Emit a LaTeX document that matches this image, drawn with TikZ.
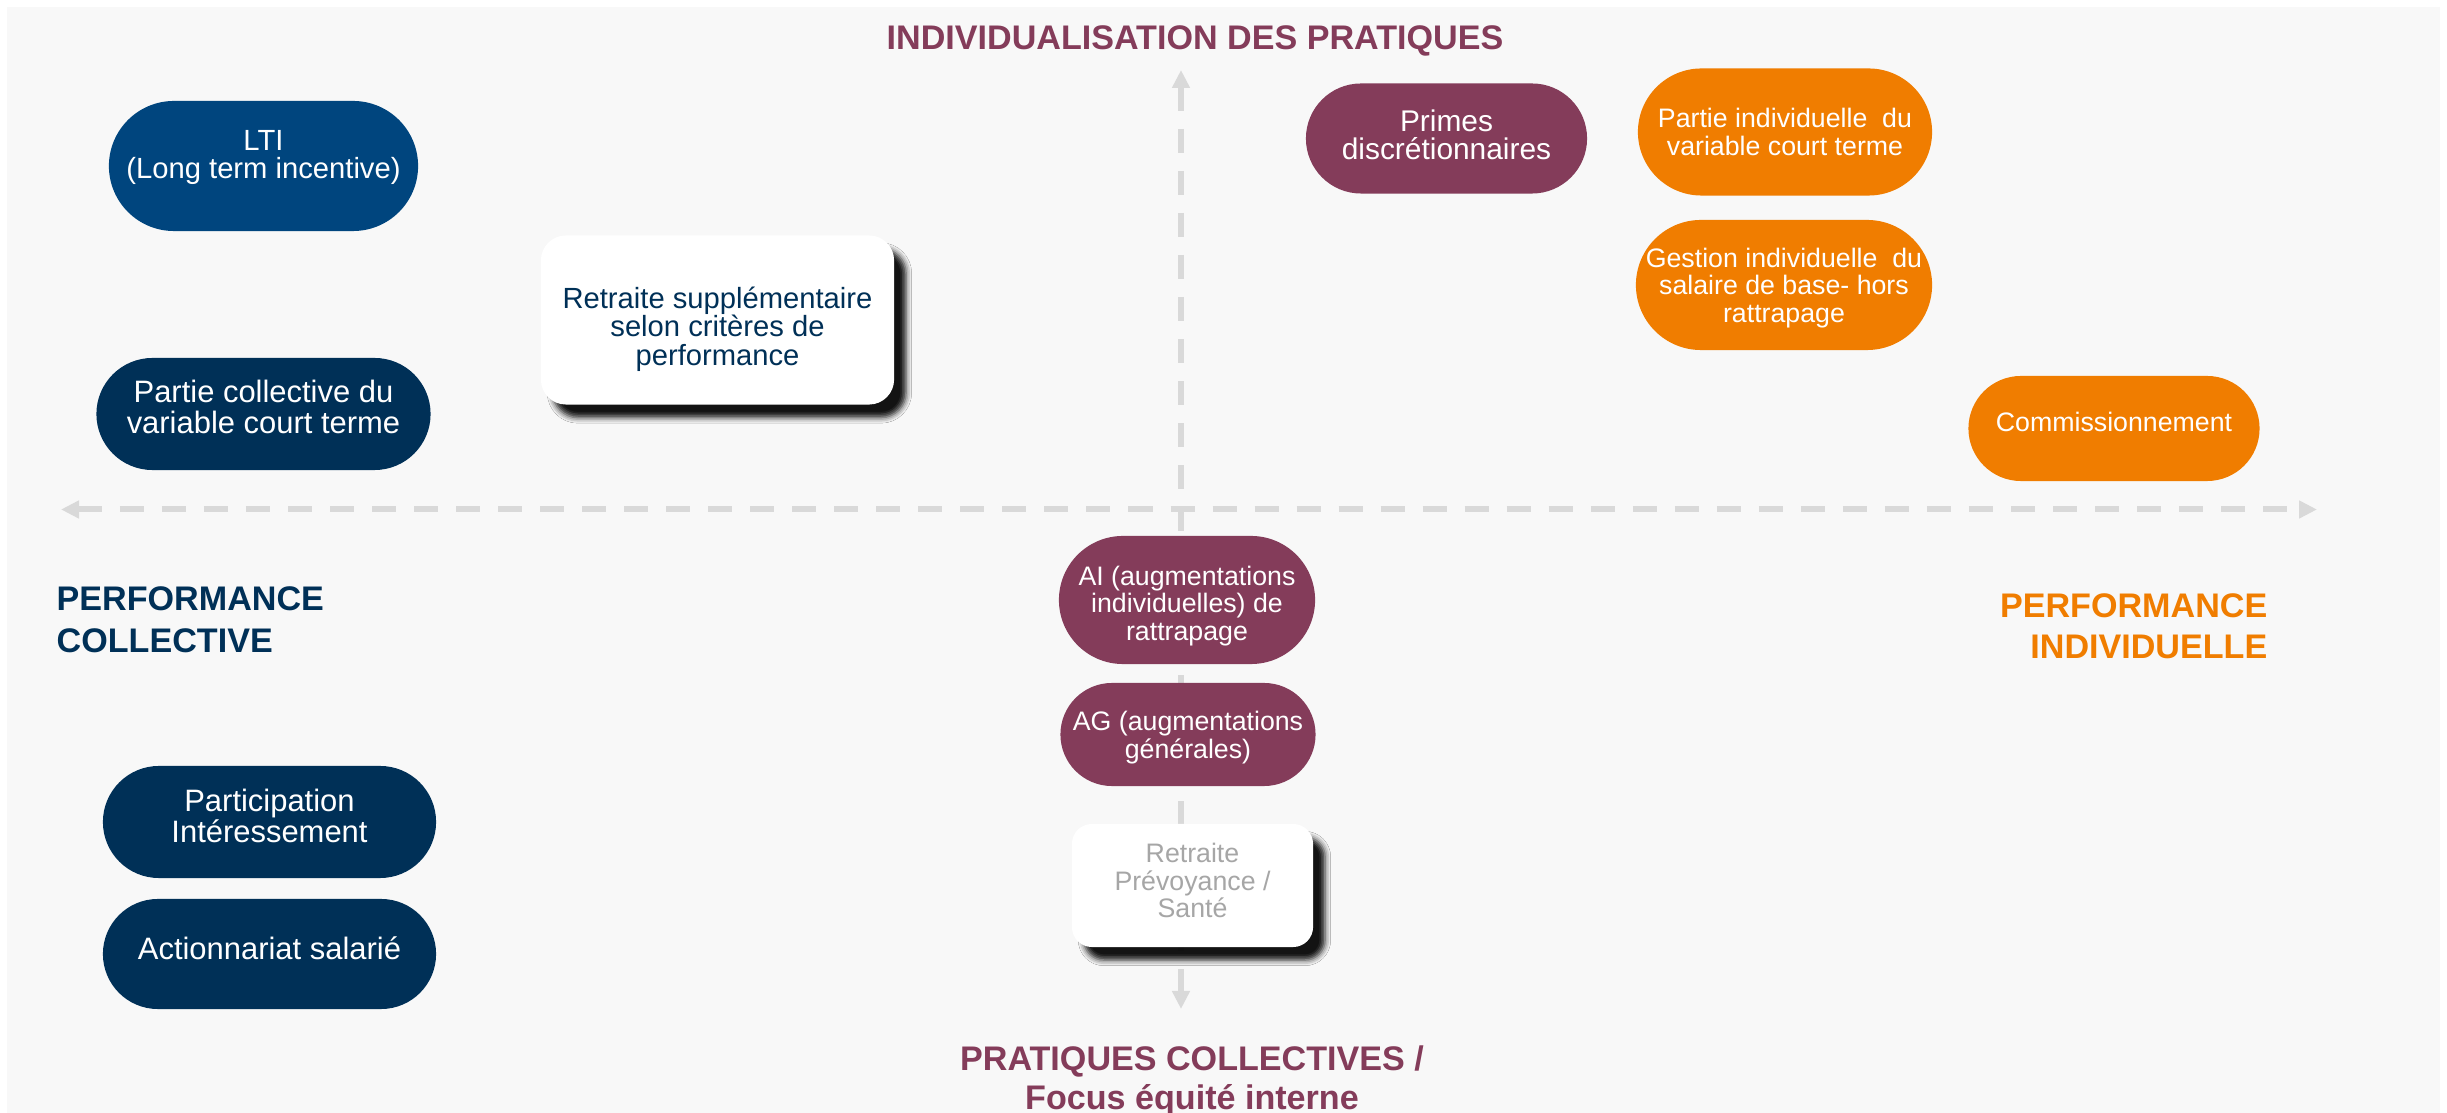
\documentclass[tikz,border=0pt]{standalone}
\usepackage{fontspec}
\setmainfont{Liberation Sans}
\usetikzlibrary{shapes.misc,arrows.meta,shadows.blur}

\definecolor{navy}{HTML}{003057}
\definecolor{ltiblue}{HTML}{00457E}
\definecolor{plum}{HTML}{843C5A}
\definecolor{tangerine}{HTML}{F07D00}
\definecolor{panel}{HTML}{F8F8F8}
\definecolor{axisgrey}{HTML}{D9D9D9}
\definecolor{softgrey}{HTML}{A6A6A6}

\begin{document}
\begin{tikzpicture}[x=0.01cm,y=-0.01cm,
  pill/.style={rounded rectangle, rounded rectangle arc length=180, inner sep=0pt},
  card/.style={rectangle, rounded corners=0.25cm, fill=white, inner sep=0pt,
    blur shadow={shadow xshift=3.4pt, shadow yshift=-3.7pt,
      shadow blur radius=1.6pt, shadow opacity=92}},
  label/.style={inner sep=0pt, align=center, text=white},
  bigtxt/.style={font=\fontsize{8.8pt}{8.6pt}\selectfont},
  midtxt/.style={font=\fontsize{8.3pt}{8.1pt}\selectfont},
  smalltxt/.style={font=\fontsize{7.6pt}{7.9pt}\selectfont},
  head/.style={font=\fontsize{9.7pt}{12pt}\selectfont\bfseries, inner sep=0pt},
  axisline/.style={draw=axisgrey, line width=0.06cm,
    dash pattern=on 0.24cm off 0.18cm,
    {Triangle[length=0.18cm,width=0.17cm,fill=axisgrey]}-{Triangle[length=0.18cm,width=0.17cm,fill=axisgrey]}}
]
% page and panel
\useasboundingbox (0,0) rectangle (2447,1113);
\fill[white] (0,0) rectangle (2447,1113);
\fill[panel] (7,7) rectangle (2440,1113);

% axes
\coordinate (hl) at (61,509.5);
\coordinate (hr) at (2317,509.5);
\coordinate (vt) at (1181,70);
\coordinate (vb) at (1181,1009);
\draw[axisline] (hl) -- (hr);
\draw[axisline] (vt) -- (vb);

% axis titles
\node[head, text=plum, anchor=base] (ttop) at (1195,50) {INDIVIDUALISATION DES PRATIQUES};
\node[head, text=navy, anchor=north west, align=left] (pcolh) at (56,586) {PERFORMANCE\\COLLECTIVE};
\node[head, text=tangerine, anchor=north east, align=right,
  font=\fontsize{9.7pt}{11.7pt}\selectfont\bfseries] (pindh) at (2268,593) {PERFORMANCE\\INDIVIDUELLE};
\node[head, text=plum, anchor=north, align=center,
  font=\fontsize{9.7pt}{11.1pt}\selectfont\bfseries] (tbot) at (1192,1045) {PRATIQUES COLLECTIVES /\\Focus équité interne};

% collective practices
\node[pill, fill=ltiblue, minimum width=3.09cm, minimum height=1.30cm] (lti) at (263.5,166) {};
\node[label, midtxt] (lti-t) at ([yshift=0.085cm]lti.center) {LTI\\(Long term incentive)};
\node[pill, fill=navy, minimum width=3.34cm, minimum height=1.12cm] (pcol) at (263.5,414) {};
\node[label, bigtxt] (pcol-t) at ([yshift=0.07cm]pcol.center) {Partie collective du\\variable court terme};
\node[pill, fill=navy, minimum width=3.33cm, minimum height=1.12cm] (part) at (269.5,822) {};
\node[label, bigtxt] (part-t) at ([yshift=0.06cm]part.center) {Participation\\Intéressement};
\node[pill, fill=navy, minimum width=3.33cm, minimum height=1.10cm] (act) at (269.5,954) {};
\node[label, bigtxt] (act-t) at ([yshift=0.06cm]act.center) {Actionnariat salarié};
\node[card, minimum width=3.53cm, minimum height=1.69cm] (rsup) at (717.5,320) {};
\node[label, midtxt, text=navy] (rsup-t) at ([yshift=-0.09cm]rsup.center) {Retraite supplémentaire\\selon critères de\\performance};

% individual practices
\node[pill, fill=plum, minimum width=2.81cm, minimum height=1.10cm] (primes) at (1446.5,138.5) {};
\node[label, font=\fontsize{8.5pt}{7.9pt}\selectfont] (primes-t) at ([yshift=0.035cm]primes.center) {Primes\\discrétionnaires};
\node[pill, fill=tangerine, minimum width=2.94cm, minimum height=1.27cm] (pind) at (1785,132) {};
\node[label, smalltxt] (pind-t) at (pind.center) {Partie individuelle~ du\\variable court terme};
\node[pill, fill=tangerine, minimum width=2.96cm, minimum height=1.30cm] (gest) at (1784,285) {};
\node[label, smalltxt] (gest-t) at ([yshift=-0.03cm]gest.center) {Gestion individuelle~ du\\salaire de base- hors\\rattrapage};
\node[pill, fill=tangerine, minimum width=2.91cm, minimum height=1.05cm] (comm) at (2114,428.5) {};
\node[label, smalltxt] (comm-t) at ([yshift=0.065cm]comm.center) {Commissionnement};

% along the vertical axis
\node[pill, fill=plum, minimum width=2.56cm, minimum height=1.28cm] (ai) at (1187,600) {};
\node[label, smalltxt] (ai-t) at ([yshift=-0.06cm]ai.center) {AI (augmentations\\individuelles) de\\rattrapage};
\node[pill, fill=plum, minimum width=2.55cm, minimum height=1.03cm] (ag) at (1188,734.5) {};
\node[label, smalltxt] (ag-t) at ([yshift=-0.03cm]ag.center) {AG (augmentations\\générales)};
\node[card, rounded corners=0.2cm, minimum width=2.41cm, minimum height=1.23cm] (rpre) at (1192.5,885.5) {};
\node[label, smalltxt, text=softgrey] (rpre-t) at ([yshift=0.05cm]rpre.center) {Retraite\\Prévoyance /\\Santé};
\end{tikzpicture}
\end{document}
